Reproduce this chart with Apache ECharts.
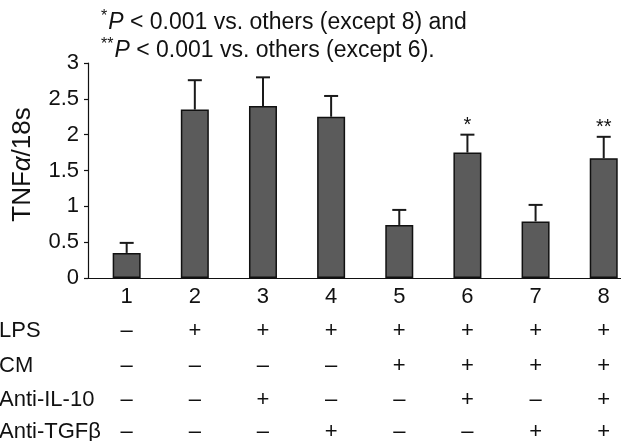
<!DOCTYPE html>
<html>
<head>
<meta charset="utf-8">
<script src="https://cdn.jsdelivr.net/npm/echarts@6/dist/echarts.min.js"></script>
<style>
  html, body { margin: 0; padding: 0; background: #fff; }
  #chart { width: 621px; height: 441px; }
</style>
</head>
<body>
<div id="chart"></div>
<script>
// Group numbers along the x axis
var groups = ['1', '2', '3', '4', '5', '6', '7', '8'];
// TNFα/18s mean expression per group
var means = [0.35, 2.35, 2.40, 2.25, 0.74, 1.75, 0.79, 1.67];
// Upper error (SD) per group
var errors = [0.14, 0.41, 0.40, 0.29, 0.21, 0.25, 0.23, 0.30];
// Significance marks above the error bars
var marks = ['', '', '', '', '', '*', '', '**'];
// Y axis ticks
var yMin = 0, yMax = 3, yStep = 0.5;

// Treatment table below the axis
var rowNames = ['LPS', 'CM', 'Anti-IL-10', 'Anti-TGF\u03b2'];
var lps      = ['\u2013', '+', '+', '+', '+', '+', '+', '+'];
var cm       = ['\u2013', '\u2013', '\u2013', '\u2013', '+', '+', '+', '+'];
var antiIL10 = ['\u2013', '\u2013', '+', '\u2013', '\u2013', '+', '\u2013', '+'];
var antiTGFb = ['\u2013', '\u2013', '\u2013', '+', '\u2013', '\u2013', '+', '+'];
var rows = [lps, cm, antiIL10, antiTGFb];

var FONT = '"Liberation Sans", Arial, Helvetica, sans-serif';
var FS = 22;
var INK = '#111';

var chart = echarts.init(document.getElementById('chart'), null, { renderer: 'canvas' });

var rowOffsets = [42, 77, 111, 143];

var xAxes = [{
  type: 'category',
  gridIndex: 0,
  data: groups,
  position: 'bottom',
  axisLine: { show: false },
  axisTick: { show: false },
  axisLabel: { color: INK, fontSize: FS, fontFamily: FONT, margin: 8 }
}];
rows.forEach(function (r, i) {
  xAxes.push({
    type: 'category',
    gridIndex: 0,
    data: r,
    position: 'bottom',
    offset: rowOffsets[i],
    axisLine: { show: false },
    axisTick: { show: false },
    axisLabel: { color: INK, fontSize: FS, fontFamily: FONT, margin: 0, interval: 0 }
  });
});
// baseline spanning from the y axis to the right edge
xAxes.push({
  type: 'value',
  gridIndex: 1,
  min: 0, max: 1,
  axisLine: { show: true, lineStyle: { color: INK, width: 1.2 } },
  axisTick: { show: false },
  axisLabel: { show: false },
  splitLine: { show: false }
});

var rowLabelGraphics = rowNames.map(function (name, i) {
  return {
    type: 'text',
    left: -1,
    top: 278 + rowOffsets[i],
    style: { text: name, fill: INK, font: FS + 'px ' + FONT }
  };
});

var option = {
  animation: false,
  backgroundColor: '#fff',
  title: {
    left: 96,
    top: 4,
    text: '{sup|*}{it|P}{n| < 0.001 vs. others (except 8) and}\n{sup|**}{it|P}{n| < 0.001 vs. others (except 6).}',
    textStyle: {
      fontWeight: 'normal',
      rich: {
        sup: { fontSize: 16, fontFamily: FONT, fontWeight: 'normal', color: INK, verticalAlign: 'top', lineHeight: 28, padding: [0, 1, 7, 0] },
        it: { fontSize: 23, fontFamily: FONT, fontWeight: 'normal', fontStyle: 'italic', color: INK, lineHeight: 28 },
        n: { fontSize: 23, fontFamily: FONT, fontWeight: 'normal', color: INK, lineHeight: 28 }
      }
    }
  },
  grid: [
    { left: 92.6, right: -16.8, top: 63, bottom: 163, outerBoundsMode: 'none', containLabel: false },
    { left: 88, right: 0, top: 63, bottom: 163, outerBoundsMode: 'none', containLabel: false }
  ],
  xAxis: xAxes,
  yAxis: [{
    type: 'value',
    gridIndex: 0,
    min: yMin, max: yMax, interval: yStep,
    offset: 4.6,
    name: 'TNF{it|\u03b1}/18s',
    nameLocation: 'middle',
    nameGap: 52,
    nameTextStyle: {
      color: INK, fontSize: 26, fontFamily: FONT,
      padding: [0, 0, 0, 12],
      rich: { it: { fontSize: 26, fontFamily: FONT, fontStyle: 'italic', color: INK } }
    },
    axisLine: { show: true, lineStyle: { color: INK, width: 1.2 } },
    axisTick: { show: true, length: 4, lineStyle: { color: INK, width: 1.2 } },
    axisLabel: { color: INK, fontSize: FS, fontFamily: FONT, margin: 9 },
    splitLine: { show: false }
  }, {
    type: 'value',
    gridIndex: 1,
    show: false
  }],
  graphic: rowLabelGraphics,
  series: [{
    type: 'bar',
    xAxisIndex: 0,
    yAxisIndex: 0,
    data: means,
    barWidth: 28,
    itemStyle: { color: '#5b5b5b', borderColor: '#111', borderWidth: 1.5 },
    z: 2
  }, {
    type: 'custom',
    xAxisIndex: 0,
    yAxisIndex: 0,
    data: means.map(function (m, i) { return [i, m, m + errors[i]]; }),
    z: 3,
    renderItem: function (params, api) {
      var i = api.value(0);
      var base = api.coord([i, api.value(1)]);
      var top = api.coord([i, api.value(2)]);
      var half = 7;
      var children = [{
        type: 'line',
        shape: { x1: base[0], y1: base[1], x2: top[0], y2: top[1] },
        style: { stroke: '#1a1a1a', lineWidth: 2 }
      }, {
        type: 'line',
        shape: { x1: top[0] - half, y1: top[1], x2: top[0] + half, y2: top[1] },
        style: { stroke: '#1a1a1a', lineWidth: 2 }
      }];
      if (marks[i]) {
        children.push({
          type: 'text',
          x: top[0], y: top[1] + 1,
          style: { text: marks[i], fill: INK, font: '20px ' + FONT, align: 'center', verticalAlign: 'bottom' }
        });
      }
      return { type: 'group', children: children };
    }
  }]
};

chart.setOption(option);
</script>
</body>
</html>
